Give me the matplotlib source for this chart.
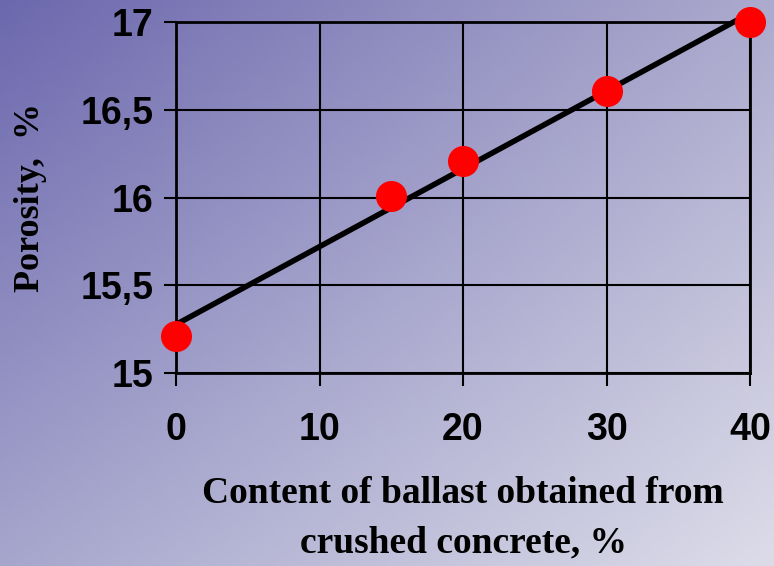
import matplotlib
matplotlib.use('Agg')
import matplotlib.pyplot as plt
import numpy as np

content = [0, 15, 20, 30, 40]
porosity = [15.21, 16.01, 16.21, 16.61, 17.0]
xticks = [0, 10, 20, 30, 40]
yticks = [15, 15.5, 16, 16.5, 17]
yticklabels = ['15', '15,5', '16', '16,5', '17']

# background gradient corners (top-left, top-right, bottom-left, bottom-right)
c_tl = np.array([108, 104, 174]) / 255
c_tr = np.array([172, 170, 205]) / 255
c_bl = np.array([166, 166, 205]) / 255
c_br = np.array([220, 220, 233]) / 255

fig = plt.figure(figsize=(7.74, 5.66), dpi=100)

u = np.linspace(0, 1, 200)[None, :, None]
v = np.linspace(0, 1, 150)[:, None, None]
grad = (c_tl * (1 - u) * (1 - v) + c_tr * u * (1 - v)
        + c_bl * (1 - u) * v + c_br * u * v)
bg = fig.add_axes([0, 0, 1, 1], zorder=-1)
bg.imshow(grad, aspect='auto', extent=[0, 1, 0, 1])
bg.axis('off')

ax = fig.add_axes([0.2274, 0.341, 0.7416, 0.620])
ax.set_facecolor('none')

fit = np.polyfit(content, porosity, 1)
xs = np.array([content[0], content[-1]])
ax.plot(xs, np.polyval(fit, xs), color='black', linewidth=4, zorder=3,
        clip_on=False)
ax.scatter(content, porosity, s=500, color='red', zorder=4, clip_on=False,
           linewidths=0)

ax.set_xlim(0, 40)
ax.set_ylim(15, 17)
ax.set_xticks(xticks)
ax.set_yticks(yticks)
ax.set_yticklabels(yticklabels)
ax.grid(True, color='black', linewidth=1.5)
ax.set_axisbelow(True)
for s in ax.spines.values():
    s.set_linewidth(2)
ax.tick_params(direction='out', length=9, width=1.5, color='black')
ax.tick_params(axis='x', pad=19)
ax.tick_params(axis='y', pad=7)
for lab in ax.get_xticklabels() + ax.get_yticklabels():
    lab.set_fontfamily('Liberation Sans')
    lab.set_fontweight('bold')
    lab.set_fontsize(27)

ax.set_ylabel('Porosity,  %', fontfamily='Liberation Serif', fontweight='bold',
              fontsize=26, labelpad=24)
ax.set_xlabel('Content of ballast obtained from\ncrushed concrete, %',
              fontfamily='Liberation Serif', fontweight='bold', fontsize=27,
              labelpad=20, linespacing=1.55)

fig.savefig('out.png', dpi=100)
